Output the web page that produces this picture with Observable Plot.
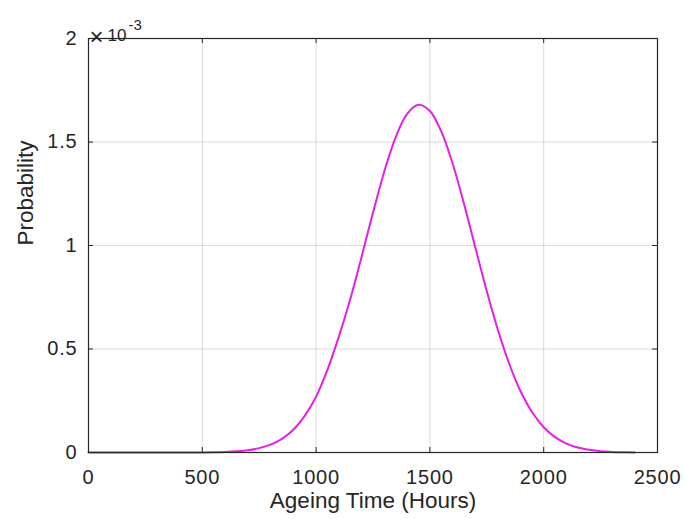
<!DOCTYPE html>
<html><head><meta charset="utf-8">
<script src="https://cdn.jsdelivr.net/npm/d3@7"></script>
<script src="https://cdn.jsdelivr.net/npm/@observablehq/plot@0.6"></script>
<style>
body{margin:0;background:#fff}
#chart{width:684px;height:519px}
g[aria-label="x-axis tick label"] text, g[aria-label="y-axis tick label"] text {letter-spacing: 0.8px}
g[aria-label="x title"] text, g[aria-label="y title"] text {letter-spacing: 1.3px}
g[aria-label="exponent"] text {letter-spacing: 0.6px}
</style>
</head><body><div id="chart"></div>
<script>
// Ageing time (hours) and probability values (in units of 1e-3)
const hours = [0,50,100,150,200,250,300,350,400,450,500,550,600,650,700,750,800,850,900,950,
  1000,1050,1100,1150,1200,1250,1300,1350,1400,1450,1500,1550,1600,1650,1700,1750,1800,1850,1900,1950,
  2000,2050,2100,2150,2200,2250,2300,2350,2400];
const probability = [0,0,0,0,0,0,0,0,0.0001,0.0002,0.0005,0.0012,0.003,0.006,0.011,0.021,0.038,0.066,0.11,0.177,
  0.27,0.40,0.56,0.74,0.946,1.159,1.359,1.524,1.636,1.68,1.65,1.551,1.395,1.201,0.989,0.779,0.588,0.424,0.292,0.193,
  0.122,0.074,0.043,0.024,0.013,0.006,0.003,0.0013,0.0005];
const xTicks = [0,500,1000,1500,2000,2500];
const xTickLabels = ["0","500","1000","1500","2000","2500"];
const yTicks = [0,0.5,1,1.5,2];
const yTickLabels = ["0","0.5","1","1.5","2"];
const xTitle = "Ageing Time (Hours)";
const yTitle = "Probability";
const expTimes = "×";
const expBase = "10";
const expPower = "-3";

const rows = hours.map((h, i) => ({hours: h, p: probability[i]}));
const xFmt = new Map(xTicks.map((t, i) => [t, xTickLabels[i]]));
const yFmt = new Map(yTicks.map((t, i) => [t, yTickLabels[i]]));

const W = 684, H = 519, mL = 88, mR = 27, mT = 38, mB = 67;
const innerH = H - mT - mB, innerW = W - mL - mR;
const ink = "#262626";
const tickLen = 5;

const chart = Plot.plot({
  width: W, height: H,
  marginLeft: mL, marginRight: mR, marginTop: mT, marginBottom: mB,
  style: {fontFamily: "'Liberation Sans', Arial, Helvetica, sans-serif", fontSize: "20px", color: ink, background: "#fff"},
  x: {domain: [0, 2500]},
  y: {domain: [0, 2]},
  marks: [
    Plot.gridX(xTicks.slice(1, -1), {stroke: "#000", strokeOpacity: 0.14}),
    Plot.gridY(yTicks.slice(1, -1), {stroke: "#000", strokeOpacity: 0.14}),
    Plot.tickX(xTicks, {x: d => d, insetTop: innerH - tickLen, stroke: ink}),
    Plot.tickX(xTicks, {x: d => d, insetBottom: innerH - tickLen, stroke: ink}),
    Plot.tickY(yTicks, {y: d => d, insetRight: innerW - tickLen, stroke: ink}),
    Plot.tickY(yTicks, {y: d => d, insetLeft: innerW - tickLen, stroke: ink}),
    Plot.axisX({ticks: xTicks, tickSize: 0, tickPadding: 17, tickFormat: d => xFmt.get(d), fontSize: 20, label: null}),
    Plot.axisY({ticks: yTicks, tickSize: 0, tickPadding: 11, tickFormat: d => yFmt.get(d), fontSize: 20, label: null}),
    Plot.line(rows, {x: "hours", y: "p", stroke: "#e61ee6", strokeWidth: 2, curve: "catmull-rom"}),
    Plot.frame({stroke: ink, strokeWidth: 1.2}),
    Plot.text([xTitle], {frameAnchor: "bottom", dy: 55, fontSize: 22.5, fill: ink, ariaLabel: "x title"}),
    Plot.text([yTitle], {frameAnchor: "left", dx: -63, rotate: -90, fontSize: 22.5, fill: ink, ariaLabel: "y title"}),
    Plot.text([expTimes], {frameAnchor: "top-left", dx: 1, dy: -11, textAnchor: "start", fontSize: 24, fill: ink, ariaLabel: "exponent"}),
    Plot.text([expBase], {frameAnchor: "top-left", dx: 19, dy: -10, textAnchor: "start", fontSize: 17, fill: ink, ariaLabel: "exponent"}),
    Plot.text([expPower], {frameAnchor: "top-left", dx: 40, dy: -19, textAnchor: "start", fontSize: 15, fill: ink, ariaLabel: "exponent"})
  ]
});
document.getElementById("chart").append(chart);
</script>
</body></html>
